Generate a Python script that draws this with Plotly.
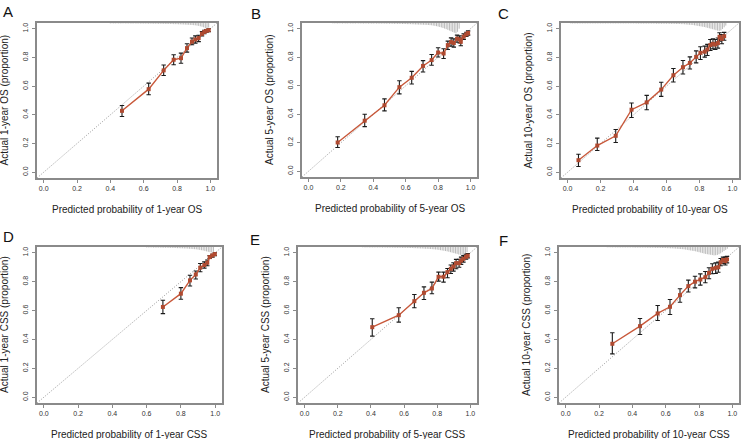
import plotly.graph_objects as go

W, H = 741, 439

# ---------------- data ----------------
panel_letters = ["A", "B", "C", "D", "E", "F"]
x_titles = ["Predicted probability of 1-year OS", "Predicted probability of 5-year OS",
            "Predicted probability of 10-year OS", "Predicted probability of 1-year CSS",
            "Predicted probability of 5-year CSS", "Predicted probability of 10-year CSS"]
y_titles = ["Actual 1-year OS (proportion)", "Actual 5-year OS (proportion)",
            "Actual 10-year OS (proportion)", "Actual 1-year CSS (proportion)",
            "Actual 5-year CSS (proportion)", "Actual 10-year CSS (proportion)"]
tick_vals = [0.0, 0.2, 0.4, 0.6, 0.8, 1.0]
tick_text = ["0.0", "0.2", "0.4", "0.6", "0.8", "1.0"]

# Panel A: 1-year OS
A_pred = [0.47, 0.63, 0.72, 0.78, 0.824, 0.86, 0.89, 0.91, 0.93, 0.95, 0.964, 0.976, 0.99]
A_obs = [0.428, 0.579, 0.71, 0.784, 0.795, 0.865, 0.91, 0.925, 0.935, 0.965, 0.978, 0.985, 0.99]
A_hi = [0.465, 0.621, 0.747, 0.819, 0.83, 0.895, 0.935, 0.95, 0.955, 0.98, 0.99, 0.995, 1.0]
A_lo = [0.388, 0.54, 0.674, 0.749, 0.76, 0.837, 0.888, 0.9, 0.91, 0.95, 0.965, 0.975, 0.98]

# Panel B: 5-year OS
B_pred = [0.18, 0.347, 0.469, 0.561, 0.637, 0.707, 0.76, 0.80, 0.834, 0.86, 0.88, 0.897,
          0.917, 0.933, 0.94, 0.958, 0.974, 0.985]
B_obs = [0.202, 0.355, 0.463, 0.59, 0.656, 0.739, 0.78, 0.833, 0.826, 0.885, 0.906, 0.90,
         0.93, 0.925, 0.908, 0.945, 0.96, 0.97]
B_hi = [0.242, 0.40, 0.508, 0.635, 0.701, 0.776, 0.819, 0.866, 0.859, 0.913, 0.936, 0.929,
        0.955, 0.95, 0.935, 0.965, 0.975, 0.985]
B_lo = [0.167, 0.313, 0.424, 0.543, 0.612, 0.696, 0.744, 0.802, 0.791, 0.854, 0.878, 0.871,
        0.905, 0.90, 0.88, 0.925, 0.945, 0.955]

# Panel C: 10-year OS
C_pred = [0.066, 0.18, 0.292, 0.388, 0.48, 0.568, 0.642, 0.70, 0.742, 0.78, 0.806, 0.832,
          0.848, 0.866, 0.882, 0.896, 0.912, 0.922, 0.936, 0.95]
C_obs = [0.084, 0.186, 0.254, 0.436, 0.487, 0.576, 0.676, 0.732, 0.762, 0.804, 0.832, 0.84,
         0.855, 0.886, 0.895, 0.89, 0.90, 0.944, 0.93, 0.948]
C_hi = [0.126, 0.238, 0.298, 0.483, 0.536, 0.627, 0.723, 0.779, 0.804, 0.846, 0.874, 0.879,
        0.891, 0.925, 0.93, 0.925, 0.935, 0.972, 0.96, 0.975]
C_lo = [0.04, 0.152, 0.207, 0.382, 0.436, 0.529, 0.629, 0.685, 0.72, 0.762, 0.786, 0.802,
        0.814, 0.848, 0.86, 0.855, 0.865, 0.914, 0.895, 0.92]

# Panel D: 1-year CSS
D_pred = [0.695, 0.80, 0.853, 0.887, 0.913, 0.937, 0.954, 0.968, 0.984, 0.998]
D_obs = [0.625, 0.717, 0.809, 0.85, 0.897, 0.915, 0.931, 0.97, 0.982, 0.991]
D_hi = [0.671, 0.759, 0.844, 0.874, 0.926, 0.937, 0.95, 0.98, 0.99, 1.0]
D_lo = [0.579, 0.678, 0.77, 0.818, 0.869, 0.894, 0.91, 0.96, 0.97, 0.98]

# Panel E: 5-year CSS
E_pred = [0.408, 0.568, 0.662, 0.72, 0.768, 0.808, 0.838, 0.862, 0.882, 0.898, 0.914, 0.932,
          0.944, 0.958, 0.974, 0.984]
E_obs = [0.485, 0.568, 0.665, 0.723, 0.753, 0.834, 0.834, 0.866, 0.889, 0.905, 0.928, 0.928,
         0.946, 0.958, 0.972, 0.98]
E_hi = [0.543, 0.619, 0.711, 0.764, 0.797, 0.866, 0.866, 0.891, 0.915, 0.931, 0.954, 0.955,
        0.97, 0.98, 0.99, 0.995]
E_lo = [0.423, 0.52, 0.619, 0.677, 0.716, 0.804, 0.797, 0.827, 0.857, 0.873, 0.889, 0.90,
        0.92, 0.935, 0.955, 0.965]

# Panel F: 10-year CSS
F_pred = [0.28, 0.446, 0.552, 0.626, 0.686, 0.736, 0.776, 0.808, 0.838, 0.86, 0.88, 0.90,
          0.916, 0.93, 0.944, 0.958, 0.968]
F_obs = [0.37, 0.492, 0.58, 0.626, 0.707, 0.769, 0.80, 0.815, 0.831, 0.861, 0.889, 0.896,
         0.90, 0.935, 0.95, 0.942, 0.954]
F_hi = [0.446, 0.545, 0.635, 0.677, 0.751, 0.811, 0.838, 0.854, 0.87, 0.896, 0.924, 0.93,
        0.935, 0.96, 0.97, 0.97, 0.975]
F_lo = [0.30, 0.434, 0.531, 0.573, 0.658, 0.728, 0.757, 0.776, 0.792, 0.82, 0.855, 0.857,
        0.865, 0.91, 0.925, 0.915, 0.93]

# Distribution of predictions (spikes hanging from the top), bins of 0.01
A_spk_start = 0.40
A_spk = [3, 2, 3, 3, 2, 3, 3, 3, 2, 3, 3, 3, 3, 4, 3, 3, 4, 3, 4, 4,
         4, 4, 4, 5, 4, 5, 5, 5, 5, 6, 5, 6, 6, 6, 7, 6, 7, 7, 8, 8,
         8, 9, 9, 10, 10, 11, 12, 12, 13, 14, 15, 16, 18, 20, 23, 26, 30, 35, 40, 32]
B_spk_start = 0.15
B_spk = [2, 2, 2, 3, 2, 2, 3, 2, 3, 3, 2, 3, 3, 3, 3, 2, 3, 3, 3, 4,
         3, 3, 4, 3, 4, 4, 3, 4, 4, 4, 4, 4, 4, 5, 4,
         5, 5, 5, 6, 5, 6, 6, 6, 7, 7, 7, 8, 8, 8, 9, 9, 10, 10, 11, 11, 12, 12, 13, 13, 14,
         15, 16, 18, 20, 22, 25, 28, 31, 35, 39, 43, 48, 53, 58, 63, 68, 72, 62, 40]
C_spk_start = 0.02
C_spk = [3, 3, 3, 3, 3, 3, 3, 3, 3, 3, 3, 3, 3, 3, 3, 3, 3, 3, 3, 3,
         3, 3, 3, 3, 3, 3, 3, 3, 3, 3, 3, 3, 3, 3, 3, 3, 3, 3, 3, 3,
         4, 4, 4, 4, 4, 4, 4, 4, 4, 4, 4, 4, 5, 5, 5, 5, 5, 5, 5, 5,
         6, 6, 6, 6, 7, 7, 7, 8, 8, 9, 10, 11, 12, 13, 14, 16, 18, 20, 22, 24,
         26, 28, 31, 34, 37, 40, 43, 46, 50, 53, 55, 52, 42, 30, 18]
D_spk_start = 0.60
D_spk = [3, 3, 3, 3, 4, 4, 4, 4, 4, 5, 5, 5, 5, 6, 6, 6, 7, 7, 8, 8,
         9, 9, 10, 10, 11, 12, 13, 14, 15, 16, 18, 20, 22, 24, 27, 30, 33, 36, 38, 34]
E_spk_start = 0.35
E_spk = [2, 2, 3, 2, 3, 3, 3, 3, 3, 3, 3, 3, 4, 3, 4, 4, 4, 4, 4, 5,
         5, 5, 5, 5, 6, 6, 6, 6, 7, 7, 7, 8, 8, 9, 9, 10, 10, 11, 12, 12,
         13, 14, 15, 16, 17, 18, 20, 22, 24, 26, 28, 30, 33, 36, 39, 42, 45, 48, 52, 55,
         58, 56, 48, 35]
F_spk_start = 0.25
F_spk = [2, 2, 2, 3, 2, 3, 3, 3, 3, 3, 3, 3, 3, 3, 3, 3, 4, 4, 4, 4,
         4, 4, 4, 4, 5, 5, 5, 5, 5, 6, 6, 6, 6, 7, 7, 7, 8, 8, 9, 9,
         10, 11, 12, 13, 14, 15, 16, 18, 20, 22, 24, 26, 28, 30, 33, 36, 39, 42, 45, 48,
         50, 52, 54, 56, 58, 57, 55, 50, 44, 36, 28, 20, 12]

panels = [
    (A_pred, A_obs, A_hi, A_lo, A_spk_start, A_spk),
    (B_pred, B_obs, B_hi, B_lo, B_spk_start, B_spk),
    (C_pred, C_obs, C_hi, C_lo, C_spk_start, C_spk),
    (D_pred, D_obs, D_hi, D_lo, D_spk_start, D_spk),
    (E_pred, E_obs, E_hi, E_lo, E_spk_start, E_spk),
    (F_pred, F_obs, F_hi, F_lo, F_spk_start, F_spk),
]

# ---------------- layout (pixel boxes of each plot region) ----------------
boxes = [  # left, right, top, bottom in px
    (37, 217, 23, 178),
    (302, 477, 23, 177),
    (561, 739, 23, 178),
    (37, 222, 247, 403),
    (298, 477, 247, 403),
    (559, 739, 247, 403),
]
letter_pos = [(1, 1), (249, 3), (496, 3), (1, 226), (248, 229), (497, 230)]

AX_LO, AX_HI = -0.04, 1.04
LINE_COLOR = "#C8583A"
MARK_COLOR = "#B04A30"
FRAME = "#8a8a8a"
FONT = "Liberation Sans, Arial, sans-serif"

fig = go.Figure()
layout = dict(
    width=W, height=H, margin=dict(l=0, r=0, t=0, b=0),
    paper_bgcolor="white", plot_bgcolor="white", showlegend=False,
    font=dict(family=FONT, color="#222"),
)
annotations = []
shapes = []

for i, ((pred, obs, hi, lo, s0, spk), (l, r, t, b)) in enumerate(zip(panels, boxes)):
    n = i + 1
    xa = "xaxis" if n == 1 else f"xaxis{n}"
    ya = "yaxis" if n == 1 else f"yaxis{n}"
    xr = "x" if n == 1 else f"x{n}"
    yr = "y" if n == 1 else f"y{n}"
    common = dict(range=[AX_LO, AX_HI], tickvals=tick_vals, ticktext=tick_text,
                  ticks="outside", ticklen=3, tickwidth=1, tickcolor=FRAME,
                  showline=True, mirror=True, linecolor=FRAME, linewidth=1.6,
                  showgrid=False, zeroline=False, fixedrange=True,
                  tickfont=dict(size=7, color="#333", family=FONT))
    layout[xa] = dict(common, domain=[l / W, r / W], anchor=yr)
    layout[ya] = dict(common, domain=[1 - b / H, 1 - t / H], anchor=xr,
                      tickangle=-90, ticklabelstandoff=1)

    # ideal line
    shapes.append(dict(type="line", xref=xr, yref=yr, x0=AX_LO, y0=AX_LO, x1=AX_HI, y1=AX_HI,
                       line=dict(color="#9a9a9a", width=1, dash="1px,1.6px"), layer="below"))

    # spikes of the distribution of predictions
    sx, sy = [], []
    for k, h in enumerate(spk):
        xv = round(s0 + 0.01 * k, 3)
        sx += [xv, xv, None]
        sy += [AX_HI, AX_HI - h / 1000.0, None]
    fig.add_trace(go.Scatter(x=sx, y=sy, mode="lines", xaxis=xr, yaxis=yr,
                             line=dict(color="#9c9c9c", width=0.7), hoverinfo="skip"))

    # calibration curve with error bars
    fig.add_trace(go.Scatter(
        x=pred, y=obs, mode="lines+markers", xaxis=xr, yaxis=yr,
        line=dict(color=LINE_COLOR, width=1.4),
        marker=dict(symbol="square", size=4, color=MARK_COLOR),
        error_y=dict(type="data", symmetric=False,
                     array=[h_ - o for h_, o in zip(hi, obs)],
                     arrayminus=[o - l_ for l_, o in zip(lo, obs)],
                     color="#1a1a1a", thickness=1.1, width=2.2),
    ))

    # titles
    cx = (l + r) / 2
    annotations.append(dict(text=x_titles[i], xref="paper", yref="paper",
                            x=cx / W, y=1 - (b + 31) / H, showarrow=False,
                            xanchor="center", yanchor="middle",
                            font=dict(size=10, color="#222", family=FONT)))
    cy = (t + b) / 2
    annotations.append(dict(text=y_titles[i], xref="paper", yref="paper",
                            x=(l - 33) / W, y=1 - cy / H, showarrow=False, textangle=-90,
                            xanchor="center", yanchor="middle",
                            font=dict(size=10, color="#222", family=FONT)))
    lx, ly = letter_pos[i]
    annotations.append(dict(text=panel_letters[i], xref="paper", yref="paper",
                            x=lx / W, y=1 - ly / H, showarrow=False,
                            xanchor="left", yanchor="top",
                            font=dict(size=15, color="#111", family=FONT)))

layout["annotations"] = annotations
layout["shapes"] = shapes
fig.update_layout(**layout)
fig.write_html("out.html", config={"displayModeBar": False},
               post_script="document.body.style.margin='0px';document.body.style.overflow='hidden';")
